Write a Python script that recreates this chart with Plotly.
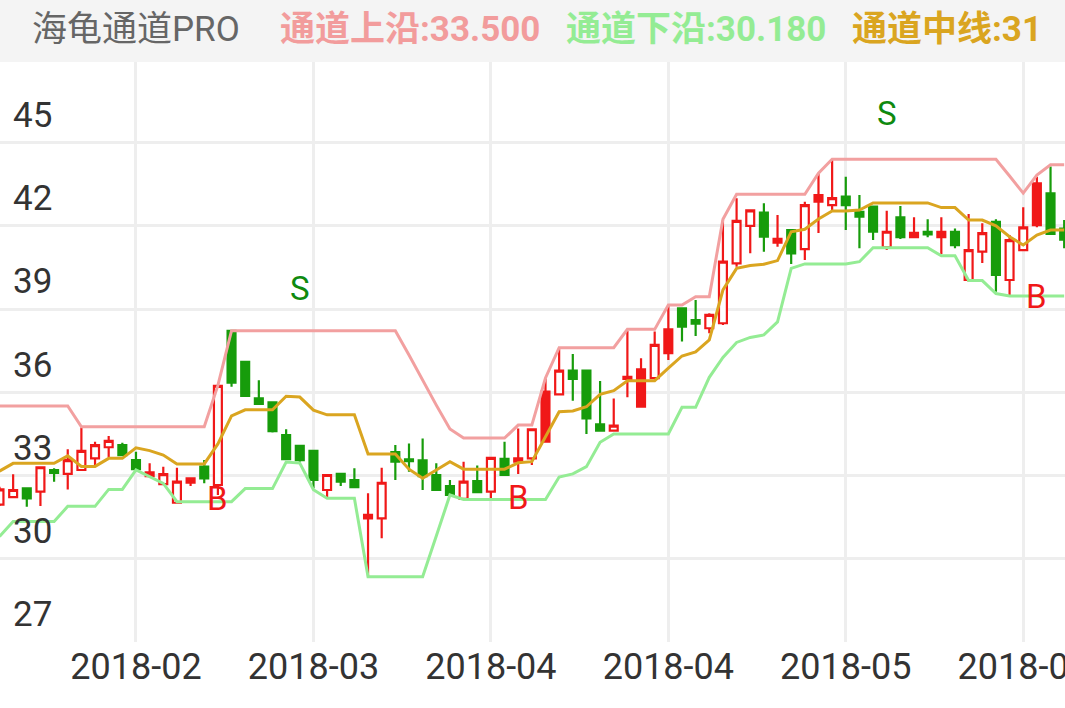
import plotly.graph_objects as go

# ---------------- data ----------------
x_tick_index = [10, 23, 36, 49, 62, 75]
x_tick_labels = ["2018-02", "2018-03", "2018-04", "2018-04", "2018-05", "2018-06"]
y_ticks = [27, 30, 33, 36, 39, 42, 45]

open_ = [31.95, 32.22, 32.54, 32.42, 33.20, 33.06, 33.20, 33.62, 34.02, 34.10,
         33.56, 32.98, 32.69, 32.02, 32.74, 33.32, 32.66, 38.22, 37.10, 35.78,
         35.64, 34.46, 34.07, 33.89, 32.48, 33.06, 32.84, 31.46, 31.46, 33.85,
         33.58, 33.55, 33.02, 32.62, 32.16, 32.80, 32.42, 33.60, 33.50, 33.62,
         34.22, 35.93, 36.78, 36.78, 34.85, 34.62, 36.48, 35.48, 36.51, 37.41,
         39.03, 38.60, 38.31, 38.49, 40.65, 42.00, 42.48, 41.40, 41.85, 41.16,
         42.87, 42.75, 43.06, 42.51, 42.70, 41.23, 42.31, 41.59, 41.79, 41.59,
         41.79, 40.05, 41.07, 42.15, 40.05, 41.13, 42.03, 43.17, 41.90]
high = [32.60, 33.05, 32.54, 33.32, 33.26, 33.95, 34.73, 34.22, 34.43, 34.18,
        33.86, 33.44, 33.32, 33.28, 32.90, 33.56, 36.25, 38.25, 37.12, 36.44,
        35.64, 34.67, 34.07, 33.89, 33.02, 33.06, 33.26, 32.36, 33.28, 34.10,
        34.16, 34.34, 33.44, 32.84, 33.50, 33.36, 33.66, 34.22, 34.70, 34.70,
        36.50, 37.59, 37.38, 36.78, 36.41, 35.78, 38.22, 37.23, 38.19, 39.15,
        39.03, 39.33, 38.85, 42.21, 43.00, 42.60, 42.82, 42.39, 41.85, 42.87,
        43.89, 44.38, 43.77, 43.11, 42.72, 42.55, 42.72, 42.31, 42.24, 42.31,
        41.91, 42.43, 42.10, 42.24, 41.67, 42.67, 43.77, 44.14, 42.21]
low = [31.90, 32.18, 31.88, 31.90, 32.78, 32.50, 33.20, 33.38, 33.66, 33.70,
       33.23, 32.96, 32.66, 32.00, 32.62, 32.72, 32.30, 36.20, 35.85, 35.58,
       34.55, 33.59, 33.50, 32.54, 32.18, 32.62, 32.58, 29.35, 30.74, 32.84,
       33.14, 32.48, 32.48, 32.30, 32.16, 32.40, 32.18, 33.02, 33.06, 33.38,
       34.22, 35.93, 35.70, 34.50, 34.62, 34.58, 35.82, 35.48, 36.51, 37.17,
       37.83, 38.03, 38.13, 38.43, 40.53, 41.01, 41.07, 41.25, 40.63, 40.77,
       41.74, 42.56, 41.85, 41.19, 41.49, 41.13, 41.53, 41.59, 41.59, 40.99,
       41.19, 39.99, 40.66, 39.63, 39.51, 41.13, 41.95, 41.67, 41.19]
close = [32.50, 32.48, 32.18, 33.30, 33.10, 33.56, 33.89, 34.10, 34.25, 33.74,
         33.23, 33.12, 33.05, 32.78, 32.90, 32.90, 36.23, 36.35, 35.87, 35.58,
         34.60, 33.59, 33.56, 32.84, 33.02, 32.78, 32.58, 31.58, 32.74, 33.50,
         33.52, 32.98, 32.48, 32.30, 32.78, 32.40, 33.64, 33.02, 33.62, 34.67,
         36.03, 36.78, 36.48, 35.06, 34.62, 34.80, 36.56, 36.83, 37.71, 38.27,
         38.37, 38.48, 38.79, 40.71, 42.18, 42.56, 41.61, 41.53, 41.01, 42.75,
         43.11, 43.00, 42.75, 42.33, 41.79, 41.79, 41.59, 41.75, 41.69, 41.79,
         41.31, 41.13, 41.74, 40.23, 41.49, 41.95, 43.53, 41.71, 41.50]
solid_red_days = [11, 14, 27, 38, 40, 46, 47, 49, 57, 60, 67, 69, 76]

upper = [35.51, 35.51, 35.51, 35.51, 35.51, 35.51, 34.76, 34.76, 34.76, 34.76,
         34.76, 34.76, 34.76, 34.76, 34.76, 34.76, 36.25, 38.22, 38.22, 38.22,
         38.22, 38.22, 38.22, 38.22, 38.22, 38.22, 38.22, 38.22, 38.22, 38.22,
         37.35, 36.44, 35.54, 34.68, 34.35, 34.35, 34.35, 34.35, 34.82, 34.82,
         36.52, 37.61, 37.61, 37.61, 37.61, 37.61, 38.27, 38.27, 38.27, 39.15,
         39.15, 39.45, 39.45, 42.24, 43.14, 43.14, 43.14, 43.14, 43.14, 43.14,
         43.90, 44.40, 44.40, 44.40, 44.40, 44.40, 44.40, 44.40, 44.40, 44.40,
         44.40, 44.40, 44.40, 44.40, 43.80, 43.18, 43.83, 44.20, 44.20]
lower = [30.80, 31.34, 31.34, 31.34, 31.34, 31.89, 31.89, 31.89, 32.50, 32.50,
         33.20, 32.96, 32.72, 32.06, 32.06, 32.06, 32.06, 32.06, 32.53, 32.53,
         32.53, 33.49, 33.45, 32.49, 32.18, 32.18, 32.18, 29.35, 29.35, 29.35,
         29.35, 29.35, 30.82, 32.30, 32.14, 32.14, 32.14, 32.14, 32.14, 32.14,
         32.14, 32.95, 33.06, 33.32, 34.20, 34.50, 34.50, 34.50, 34.50, 34.50,
         35.46, 35.46, 36.54, 37.26, 37.80, 37.98, 38.07, 38.54, 40.47, 40.63,
         40.63, 40.63, 40.63, 40.71, 41.21, 41.21, 41.21, 41.21, 41.21, 40.92,
         40.92, 40.03, 40.03, 39.56, 39.47, 39.47, 39.47, 39.47, 39.47]
mid = [33.16, 33.44, 33.44, 33.44, 33.44, 33.71, 33.33, 33.33, 33.62, 33.62,
       34.00, 33.90, 33.74, 33.42, 33.42, 33.42, 34.14, 35.15, 35.37, 35.37,
       35.37, 35.86, 35.83, 35.36, 35.19, 35.19, 35.19, 33.78, 33.78, 33.78,
       33.23, 32.90, 33.20, 33.50, 33.23, 33.23, 33.23, 33.23, 33.46, 33.50,
       34.40, 35.30, 35.33, 35.48, 35.93, 36.06, 36.42, 36.42, 36.42, 36.87,
       37.31, 37.46, 37.89, 39.69, 40.47, 40.57, 40.62, 40.75, 41.79, 41.88,
       42.25, 42.54, 42.54, 42.57, 42.83, 42.83, 42.83, 42.83, 42.83, 42.66,
       42.66, 42.21, 42.21, 42.00, 41.61, 41.31, 41.67, 41.85, 41.85]

signal_day = [16, 22, 38, 65, 76]
signal_type = ["B", "S", "B", "S", "B"]
signal_value = [32.19, 39.76, 32.22, 46.06, 39.47]

header_title = "海龟通道PRO"
header_upper = "通道上沿:33.500"
header_lower = "通道下沿:30.180"
header_mid = "通道中线:31"

# ---------------- styling ----------------
RED = "#F01818"
GREEN = "#179C0B"
UPPER_C = "#F2A0A0"
LOWER_C = "#94EC94"
MID_C = "#DAA520"
FONT = "Roboto, 'Noto Sans CJK SC', sans-serif"

W, H = 1065, 708
TOP, BOTTOM = 62, 66
plot_h = H - TOP - BOTTOM

days = list(range(len(close)))
green_d = [d for d in days if close[d] < open_[d]]
solid_d = [d for d in days if d in solid_red_days and d not in green_d]
hollow_d = [d for d in days if d not in green_d and d not in solid_d]


def sub(arr, idx):
    return [arr[i] for i in idx]


fig = go.Figure()


def add_candles(idx, line_color, fill_color):
    style = dict(line=dict(color=line_color, width=2.2), fillcolor=fill_color)
    fig.add_trace(go.Candlestick(
        x=idx, open=sub(open_, idx), high=sub(high, idx), low=sub(low, idx),
        close=sub(close, idx), increasing=style, decreasing=style,
        showlegend=False, hoverinfo="skip", whiskerwidth=0))


add_candles(hollow_d, RED, "white")
add_candles(solid_d, RED, RED)
add_candles(green_d, GREEN, GREEN)

for arr, col in [(upper, UPPER_C), (lower, LOWER_C), (mid, MID_C)]:
    fig.add_trace(go.Scatter(x=days, y=arr, mode="lines",
                             line=dict(color=col, width=3),
                             showlegend=False, hoverinfo="skip"))

for d, t, v in zip(signal_day, signal_type, signal_value):
    fig.add_annotation(x=d, y=v, text=t, showarrow=False,
                       font=dict(family=FONT, size=33,
                                 color=RED if t == "B" else "#0F8A0F"),
                       xanchor="center", yanchor="middle")

# header band
fig.add_shape(type="rect", xref="paper", yref="paper", x0=0, x1=1,
              y0=1, y1=1 + TOP / plot_h, fillcolor="#F4F4F4",
              line=dict(width=0), layer="below")

hy = 1 + (TOP - 30) / plot_h
for txt, xpx, col, bold in [(header_title, 30, "#666666", False),
                            (header_upper, 278, "#F29C9C", True),
                            (header_lower, 564, "#94EC94", True),
                            (header_mid, 850, "#DAA520", True)]:
    fig.add_annotation(xref="paper", yref="paper", x=xpx / W, y=hy,
                       text=f"<b>{txt}</b>" if bold else txt,
                       showarrow=False, xanchor="left", yanchor="middle",
                       font=dict(family=FONT, size=35, color=col))

fig.update_layout(
    width=W, height=H,
    margin=dict(l=0, r=0, t=TOP, b=BOTTOM, pad=0, autoexpand=False),
    paper_bgcolor="white", plot_bgcolor="white",
    boxgap=0.42, boxgroupgap=0,
    showlegend=False,
    xaxis=dict(range=[0.037, 78.06], tickmode="array", tickvals=x_tick_index,
               ticktext=x_tick_labels, showgrid=True, gridcolor="#EEEEEE",
               gridwidth=2.5, zeroline=False, showline=False, ticks="",
               ticklabeloverflow="allow", automargin=False,
               rangeslider=dict(visible=False),
               tickfont=dict(family=FONT, size=36, color="#333333")),
    yaxis=dict(range=[27, 27 + plot_h / 27.74], tickmode="array", tickvals=y_ticks,
               ticktext=[str(v) for v in y_ticks], showgrid=True,
               gridcolor="#EEEEEE", gridwidth=2.5, zeroline=False,
               automargin=False,
               ticklabelposition="inside", ticklabelshift=-28,
               ticklabelstandoff=10, ticks="",
               tickfont=dict(family=FONT, size=35, color="#333333")),
)

fig.write_html("out.html",
               config={"displayModeBar": False},
               post_script="document.documentElement.style.overflow='hidden';"
                           "document.body.style.margin='0';"
                           "document.body.style.padding='0';"
                           "document.body.style.overflow='hidden';")
